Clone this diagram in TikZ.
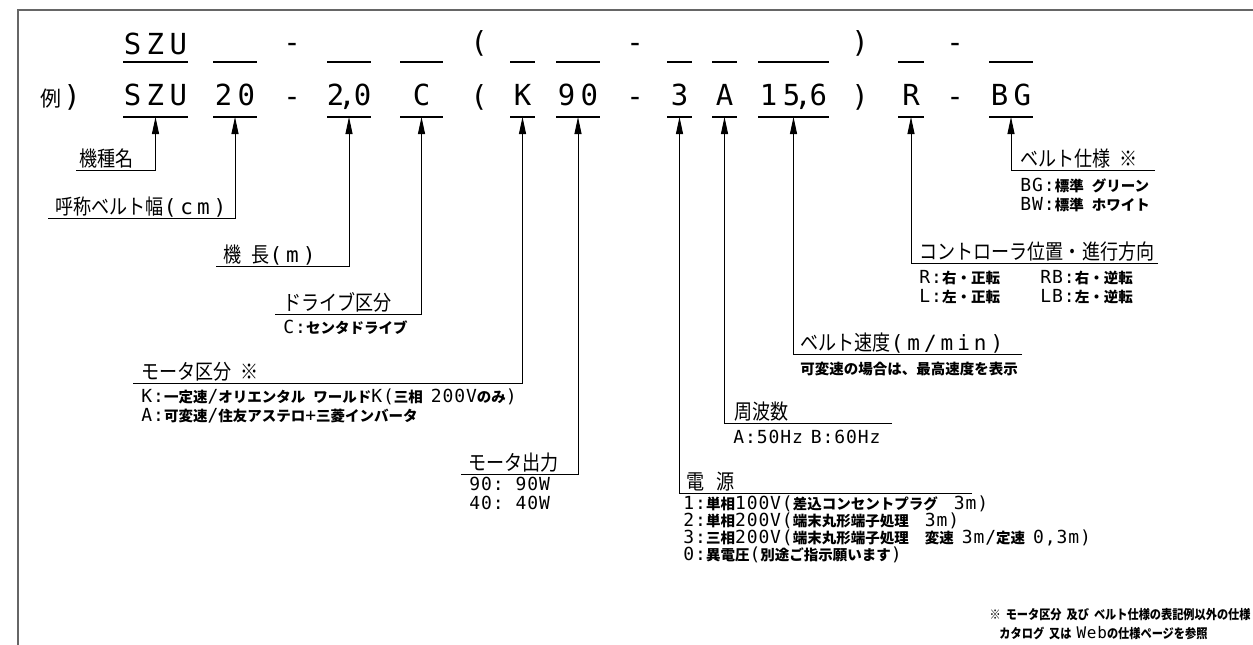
\documentclass[tikz,border=0pt]{standalone}
\usepackage{fontspec}
\usetikzlibrary{arrows.meta}

\newfontfamily\jp{Noto Sans CJK JP}
\newfontfamily\jpc{Noto Sans CJK JP}[FakeStretch=0.86]
\newfontfamily\cadfont{DejaVu Sans Mono}[LetterSpace=19]
\newfontfamily\cadsub{DejaVu Sans Mono}[LetterSpace=5]

%switch between Latin and Japanese glyphs inside one text
\newXeTeXintercharclass\jpclass
\newcount\cjkcode
\cjkcode="3000
\loop
  \XeTeXcharclass\cjkcode=\jpclass
  \advance\cjkcode by 1
\ifnum\cjkcode<"A000 \repeat
\cjkcode="FF00
\loop
  \XeTeXcharclass\cjkcode=\jpclass
  \advance\cjkcode by 1
\ifnum\cjkcode<"FFF0 \repeat
\XeTeXcharclass"203B=\jpclass
\def\jpnow{}\def\latnow{}
\XeTeXinterchartoks 0 \jpclass = {\jpnow}
\XeTeXinterchartoks 4095 \jpclass = {\jpnow}
\XeTeXinterchartoks \jpclass 0 = {\latnow}
\XeTeXinterchartoks 4095 0 = {\latnow}

\def\dec{\kern-6pt,\kern-2pt}

\tikzset{every picture/.style={line width=0.9pt}}
\tikzset{
  code/.style={font=\cadfont\fontsize{29}{32}\selectfont, inner xsep=0pt, text depth=0pt},
  slot/.style={code, anchor=south},
  uline/.style={line width=1.3pt},
  lead/.style={line width=0.9pt, -{Triangle[length=17pt,width=7pt]}},
  mix/.style n args={6}{font={\XeTeXinterchartokenstate=1
      \def\latnow{#1\mdseries\fontsize{#2}{#2}\selectfont}%
      \def\jpnow{#3#4\fontsize{#5}{#5}\selectfont}\latnow\spaceskip=#6pt\relax}},
  lbl/.style={mix={\cadfont}{21}{\jpc}{\mdseries}{21}{9}, anchor=base west, inner sep=0pt},
  sub/.style={mix={\cadsub}{18}{\jp}{\bfseries}{14.5}{8}, anchor=base west, inner sep=0pt},
  note/.style={mix={\cadsub}{16}{\jpc}{\bfseries}{13}{5}, anchor=base west, inner sep=0pt},
}

\begin{document}
\begin{tikzpicture}[x=1pt,y=1pt,yscale=-1]
\useasboundingbox (0,0) rectangle (1253,645);

%Frame
\draw [draw=black!60, line width=1.5pt] (18,645) -- (18,10) -- (1253,10);

%Template row
\foreach \nm/\cx/\w/\tx in {szu/155.5/65/SZU, wid/235/44/{}, len/349/44/{}, drv/421.5/43/{},
    mot/522.5/25/{}, out/578/44/{}, pwr/679.5/25/{}, frq/724.5/25/{}, spd/793.5/71/{},
    ctl/911/26/{}, blt/1011/44/{}}
{
  \node [slot, inner ysep=7pt] (t\nm) at (\cx,62) {\tx};
  \draw [uline] (t\nm.south) ++(-\w/2,0) -- ++(\w,0);
}
\foreach \nm/\cx/\tx in {da/292/-, pl/479/{(}, db/635/-, pr/860/{)}, dc/955/-}
  \node [code, anchor=base] (t\nm) at (\cx,52) {\tx};

%Example row
\node [mix={\cadfont}{29}{\jp}{\mdseries}{21}{9}, anchor=base west, inner sep=0pt] (rei) at (40,106) {例\hspace{2pt})};
\foreach \nm/\cx/\w/\tx in {szu/155.5/65/SZU, wid/235/44/20, len/349/44/2\dec0, drv/421.5/43/C,
    mot/522.5/25/K, out/578/44/90, pwr/679.5/25/3, frq/724.5/25/A, spd/793.5/71/15\dec6,
    ctl/911/26/R, blt/1011/44/BG}
{
  \node [slot, inner ysep=11pt] (\nm) at (\cx,117) {\tx};
  \draw [uline] (\nm.south) ++(-\w/2,0) -- ++(\w,0);
}
\foreach \nm/\cx/\tx in {da/292/-, pl/479/{(}, db/635/-, pr/860/{)}, dc/955/-}
  \node [code, anchor=base] (\nm) at (\cx,106) {\tx};

%Leader corners
\coordinate (c-szu) at (76,170);
\coordinate (c-wid) at (48,218);
\coordinate (c-len) at (216,266);
\coordinate (c-drv) at (275,314);
\coordinate (c-mot) at (133,383);
\coordinate (c-out) at (461,474);
\coordinate (c-pwr) at (972,493);
\coordinate (c-frq) at (892,423);
\coordinate (c-spd) at (1022,354);
\coordinate (c-ctl) at (1158,263);
\coordinate (c-blt) at (1155,170);

\foreach \nm in {szu,wid,len,drv,mot,out,pwr,frq,spd,ctl,blt}
  \draw [lead] (c-\nm) -| (\nm.south);

% Text Node
\node [lbl] (l-szu) at (79,166) {機種名};
\node [lbl] (l-wid) at (55,214) {呼称ベルト幅(cm)};
\node [lbl] (l-len) at (223,262) {機\hspace{10pt}長(m)};
\node [lbl] (l-drv) at (283,310) {ドライブ区分};
\node [sub] (s-drv) at (283,333) {C:センタドライブ};
\node [lbl] (l-mot) at (141,379) {モータ区分 ※};
\node [sub] (s-mot1) at (141,402) {K:一定速/オリエンタル ワールドK(三相 200Vのみ)};
\node [sub] (s-mot2) at (141,421) {A:可変速/住友アステロ+三菱インバータ};
\node [lbl] (l-out) at (468,470) {モータ出力};
\node [sub] (s-out1) at (469,490) {90: 90W};
\node [sub] (s-out2) at (469,509) {40: 40W};
\node [lbl] (l-pwr) at (686,489) {電\hspace{12pt}源};
\node [sub] (s-pwr1) at (683,509) {1:単相100V(差込コンセントプラグ~~3m)};
\node [sub] (s-pwr2) at (683,526) {2:単相200V(端末丸形端子処理~~3m)};
\node [sub] (s-pwr3) at (683,543) {3:三相200V(端末丸形端子処理~~変速 3m/定速 0,3m)};
\node [sub] (s-pwr4) at (683,560) {0:異電圧(別途ご指示願います)};
\node [lbl] (l-frq) at (734,419) {周波数};
\node [sub] (s-frq) at (733,443) {A:50Hz B:60Hz};
\node [lbl] (l-spd) at (800,350) {ベルト速度(m/min)};
\node [sub] (s-spd) at (800,374) {可変速の場合は、最高速度を表示};
\node [lbl] (l-ctl) at (919,259) {コントローラ位置・進行方向};
\node [sub] (s-ctl1) at (919,283) {R:右・正転};
\node [sub] (s-ctl2) at (1040,283) {RB:右・逆転};
\node [sub] (s-ctl3) at (919,302) {L:左・正転};
\node [sub] (s-ctl4) at (1040,302) {LB:左・逆転};
\node [lbl] (l-blt) at (1020,166) {ベルト仕様 ※};
\node [sub] (s-blt1) at (1020,191) {BG:標準 グリーン};
\node [sub] (s-blt2) at (1020,210) {BW:標準 ホワイト};

%Note
\node [note, anchor=base east] (n-1) at (1251,619) {※ モータ区分 及び ベルト仕様の表記例以外の仕様};
\node [note] (n-2) at (999,638) {カタログ 又は Webの仕様ページを参照};

\end{tikzpicture}
\end{document}
